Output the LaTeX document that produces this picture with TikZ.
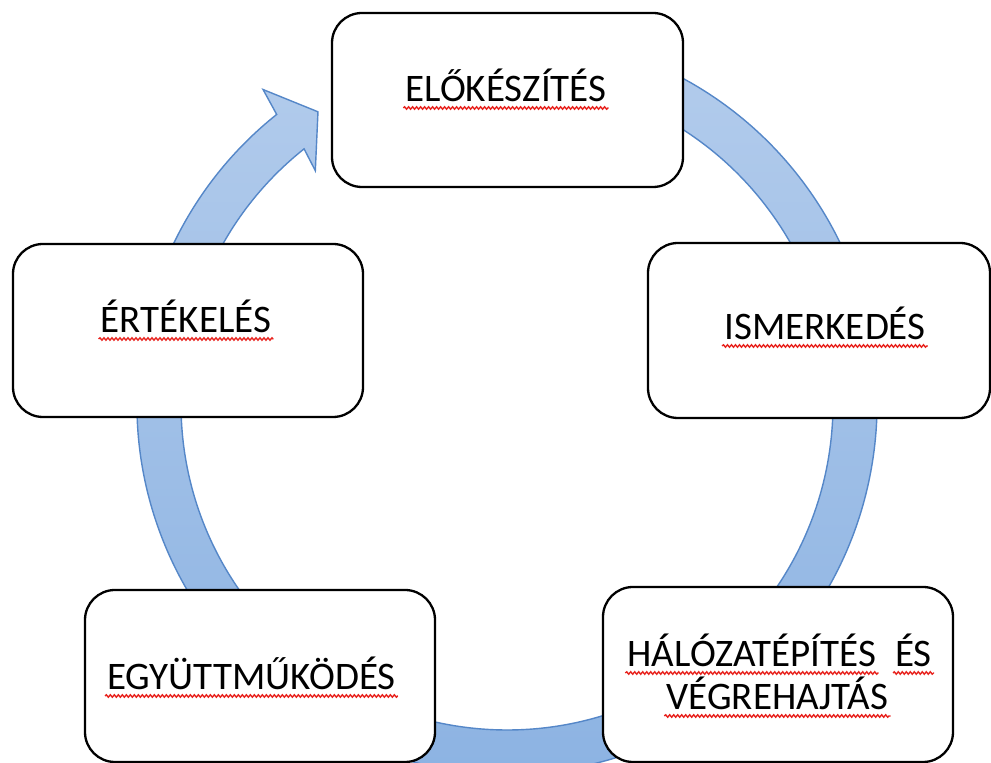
\documentclass[tikz,border=0pt]{standalone}
\usepackage{fontspec}
\setmainfont{Carlito}
\usetikzlibrary{decorations.pathmorphing}
\definecolor{bandtop}{HTML}{B3CCEC}
\definecolor{bandbot}{HTML}{8BB2E2}
\definecolor{bandedge}{HTML}{5587C8}
\definecolor{squigred}{HTML}{E8231E}
\begin{document}
\begin{tikzpicture}[x=1pt,y=1pt,
  stage/.style={draw=black, line width=2.3pt, fill=white, rounded corners=30pt,
    inner sep=0pt, minimum width=350pt, minimum height=174pt},
  lbl/.style={anchor=base, inner sep=0pt, font=\fontsize{39}{46}\selectfont},
  squig/.style={draw=squigred, line width=1.4pt,
    decorate, decoration={snake, amplitude=1.2pt, segment length=4pt}}]
\useasboundingbox (0,0) rectangle (991,763);
\fill[white] (0,0) rectangle (991,763);
% circular arrow
\coordinate (c) at (507,359);
\begin{scope}[shift={(c)}]
\shade[top color=bandtop, bottom color=bandbot, draw=bandedge, line width=1.4pt, line join=miter]
  (80:370pt) arc[start angle=80, end angle=-231.5, radius=370pt]
  -- (-232.2:398pt) -- (-237.1:348pt) -- (-230.6:302pt) -- (-231.5:326pt)
  arc[start angle=-231.5, end angle=80, radius=326pt] -- cycle;
\end{scope}
% boxes
\node[stage, minimum width=351pt] (b1) at (507.5,663) {};
\node[stage, minimum width=342pt, minimum height=175pt] (b2) at (819,432.5) {};
\node[stage, minimum height=175pt] (b3) at (778,88.5) {};
\node[stage, minimum height=172pt] (b4) at (260,87) {};
\node[stage, minimum height=173pt] (b5) at (188,432.5) {};
% labels
\node[lbl] (t1) at (506,661) {ELŐKÉSZÍTÉS};
\node[lbl] (t2) at (825,423) {ISMERKEDÉS};
\node[lbl] (t3a) at (752,96) {HÁLÓZATÉPÍTÉS};
\node[lbl] (t3b) at (913.5,96) {ÉS};
\node[lbl] (t3c) at (777.5,53) {VÉGREHAJTÁS};
\node[lbl] (t4) at (251.5,73) {EGYÜTTMŰKÖDÉS};
\node[lbl] (t5) at (186,430) {ÉRTÉKELÉS};
% spell-check squiggles
\foreach \t in {t1,t2,t3a,t3b,t3c,t4,t5}{
  \draw[squig] ([xshift=-2pt,yshift=-6pt]\t.base west) -- ([xshift=2pt,yshift=-6pt]\t.base east);
}
\end{tikzpicture}
\end{document}
